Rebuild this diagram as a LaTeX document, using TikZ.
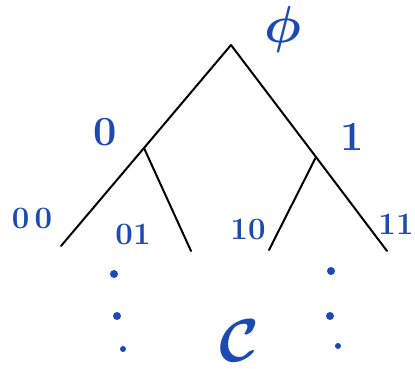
\documentclass[tikz,border=0pt]{standalone}
\usetikzlibrary{positioning}
\definecolor{handblue}{RGB}{28,74,178}

\begin{document}
\begin{tikzpicture}[
                    x=1pt, y=-1pt,
                    branch/.style={draw, black, line width=2pt, line cap=round},
                    vertex/.style={inner sep=0pt, minimum size=0pt},
                    lbl/.style={text=handblue, inner sep=0pt, font=\LARGE\bfseries\boldmath},
                    dotmark/.style={circle, fill=handblue, inner sep=0pt, minimum size=8pt}
                ]
                \useasboundingbox (0,0) rectangle (415,368);

                % Tree vertices
                \node[vertex] (root) at (231,45) {};
                \node[vertex] (n0) at (144,148) {};
                \node[vertex] (n1) at (316,157) {};
                \node[vertex] (n00) at (61,246) {};
                \node[vertex] (n01) at (191,251) {};
                \node[vertex] (n10) at (269,250) {};
                \node[vertex] (n11) at (387,251) {};

                % Labels
                \node[lbl, scale=3.0] (lroot) at (283,30) {$\phi$};
                \node[lbl, scale=2.4] (l0) at (105,132) {0};
                \node[lbl, scale=2.4] (l1) at (352,137) {1};
                \node[lbl, scale=1.8] (l00) at (32,218) {0\,0};
                \node[lbl, scale=1.8] (l01) at (133,234) {01};
                \node[lbl, scale=1.8] (l10) at (248,229) {10};
                \node[lbl, scale=1.8] (l11) at (396,224) {11};
                \node[lbl, scale=3.5] (lcode) at (239,341) {$\mathcal{C}$};

                % Continuation dots
                \node[dotmark] (dl1) at (114,274) {};
                \node[dotmark] (dl2) at (117,316) {};
                \node[dotmark, minimum size=6pt] (dl3) at (123,349) {};
                \node[dotmark] (dr1) at (331,271) {};
                \node[dotmark] (dr2) at (330,316) {};
                \node[dotmark, minimum size=6pt] (dr3) at (338,346) {};

                % Branches
                \draw[branch] (root.center) -- (n0.center);
                \draw[branch] (root.center) -- (n1.center);
                \draw[branch] (n0.center) -- (n00.center);
                \draw[branch] (n0.center) -- (n01.center);
                \draw[branch] (n1.center) -- (n10.center);
                \draw[branch] (n1.center) -- (n11.center);
            \end{tikzpicture}
\end{document}
